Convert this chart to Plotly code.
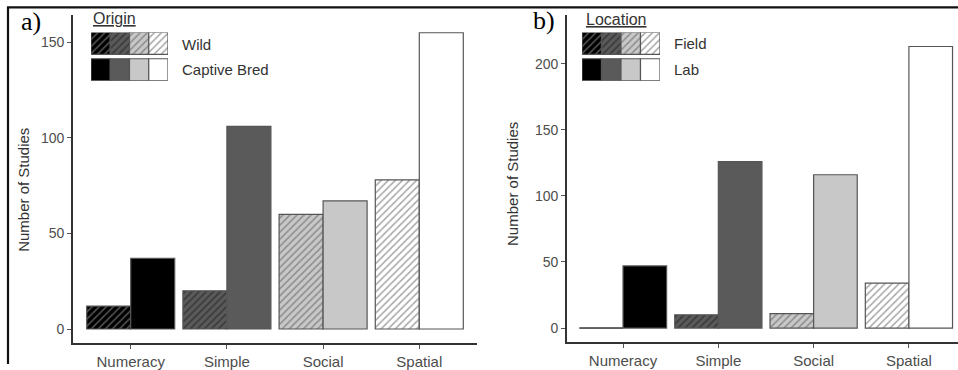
import plotly.graph_objects as go

# ---- data -------------------------------------------------------------
categories = ["Numeracy", "Simple", "Social", "Spatial"]

origin_wild = [12, 20, 60, 78]
origin_captive = [37, 106, 67, 155]

location_field = [0, 10, 11, 34]
location_lab = [47, 126, 116, 213]

y_ticks_a = [0, 50, 100, 150]
y_ticks_b = [0, 50, 100, 150, 200]

# ---- styling ----------------------------------------------------------
W, H = 958, 370
fills = ["#000000", "#5a5a5a", "#c8c8c8", "#ffffff"]
hatch_fg = ["#555555", "#383838", "#8c8c8c", "#a8a8a8"]
outline = "#555555"
BAR_W = (1 - 0.085) / 2  # width of one bar inside a category slot


def px(x):
    return x / W


def py(y):
    return 1 - y / H


def bar(i, x, y, xa, ya, hatch, offset, width, base=None, size=5):
    marker = dict(color=fills[i], line=dict(color=outline, width=1.2))
    if hatch:
        marker["pattern"] = dict(shape="/", bgcolor=fills[i], fgcolor=hatch_fg[i],
                                 size=size, solidity=0.3, fillmode="replace")
    return go.Bar(x=[x], y=[y], base=None if base is None else [base],
                  offset=offset, width=width, xaxis=xa, yaxis=ya,
                  marker=marker, showlegend=False, hoverinfo="skip")


fig = go.Figure()
shapes = []

# main bars: hatched series to the left of each category, solid to the right
panels = [
    (origin_wild, origin_captive, "x", "y"),
    (location_field, location_lab, "x2", "y2"),
]
for left_vals, right_vals, xa, ya in panels:
    for i, cat in enumerate(categories):
        fig.add_trace(bar(i, cat, left_vals[i], xa, ya, True, -BAR_W, BAR_W))
        fig.add_trace(bar(i, cat, right_vals[i], xa, ya, False, 0, BAR_W))
        # a zero count is still shown as a flat outline on the baseline
        if left_vals[i] == 0:
            shapes.append(dict(type="line", xref=xa, yref=ya,
                               x0=i - BAR_W, x1=i, y0=0, y1=0,
                               line=dict(color=outline, width=1.5)))

# legend keys: a hatched row above a solid row of the four fills
for xa, ya in [("x3", "y3"), ("x4", "y4")]:
    for i in range(4):
        fig.add_trace(bar(i, i, 1, xa, ya, True, -0.5, 1, base=1.2, size=5))
        fig.add_trace(bar(i, i, 1, xa, ya, False, -0.5, 1, base=0))

tick_font = dict(family="Liberation Sans, Arial, sans-serif", size=14, color="#4d4d4d")
axis_common = dict(showline=True, linecolor="#333333", linewidth=1.8,
                   ticks="outside", ticklen=4, tickcolor="#555555", tickwidth=1,
                   showgrid=False, zeroline=False, fixedrange=True)
x_font = dict(tick_font, size=15)

key_axis = dict(visible=False, showgrid=False, zeroline=False, fixedrange=True)

fig.update_layout(
    width=W, height=H,
    margin=dict(l=0, r=0, t=0, b=0),
    paper_bgcolor="white", plot_bgcolor="rgba(0,0,0,0)",
    barmode="overlay",
    xaxis=dict(domain=[px(73), px(477)], range=[-0.6, 3.6], anchor="y",
               type="category", tickfont=x_font, **axis_common),
    yaxis=dict(domain=[py(349), py(15)], range=[-7.5, 164.4], anchor="x",
               tickvals=y_ticks_a, tickfont=tick_font, **axis_common),
    xaxis2=dict(domain=[px(567), 1.0], range=[-0.588, 3.515], anchor="y2",
                type="category", tickfont=x_font, **axis_common),
    yaxis2=dict(domain=[py(348), py(15)], range=[-10.8, 237], anchor="x2",
                tickvals=y_ticks_b, tickfont=tick_font, **axis_common),
    xaxis3=dict(domain=[px(91), px(168)], range=[-0.5, 3.5], anchor="y3", **key_axis),
    yaxis3=dict(domain=[py(82), py(33)], range=[0, 2.2], anchor="x3", **key_axis),
    xaxis4=dict(domain=[px(582), px(660)], range=[-0.5, 3.5], anchor="y4", **key_axis),
    yaxis4=dict(domain=[py(82), py(33)], range=[0, 2.2], anchor="x4", **key_axis),
    shapes=shapes + [
        # outer frame
        dict(type="line", xref="paper", yref="paper", x0=px(7), x1=1.0,
             y0=py(7.5), y1=py(7.5), line=dict(color="#111111", width=2.2)),
        dict(type="line", xref="paper", yref="paper", x0=px(8), x1=px(8),
             y0=py(7), y1=0, line=dict(color="#111111", width=2.2)),
    ],
)

sans = "Liberation Sans, Arial, sans-serif"
serif = "Liberation Serif, Times New Roman, serif"
ann = []


def label(text, x, y, size, color="#333333", family=sans, xanchor="left", angle=0):
    ann.append(dict(text=text, x=px(x), y=py(y), xref="paper", yref="paper",
                    showarrow=False, xanchor=xanchor, yanchor="middle",
                    textangle=angle, font=dict(family=family, size=size, color=color)))


label("a)", 19, 22, 26, color="#000000", family=serif)
label("b)", 531, 21, 26, color="#000000", family=serif)
label("Number of Studies", 24, 193, 15, color="#333333", xanchor="center", angle=-90)
label("Number of Studies", 513, 187, 15, color="#333333", xanchor="center", angle=-90)
label("<u>Origin</u>", 91, 19, 16)
label("Wild", 180, 45, 15)
label("Captive Bred", 180, 71, 15)
label("<u>Location</u>", 584, 20, 16)
label("Field", 672, 44, 15)
label("Lab", 672, 71, 15)

fig.update_layout(annotations=ann)

fig.write_html("out.html")
